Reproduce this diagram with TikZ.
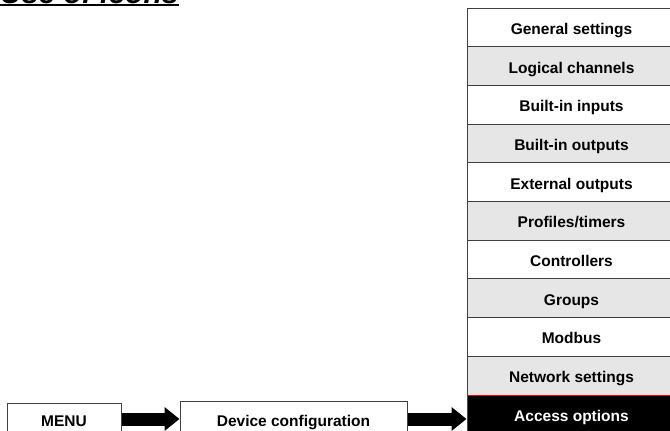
\documentclass[tikz,border=0pt]{standalone}
\usepackage{fontspec}
\setmainfont{Liberation Sans}
\usetikzlibrary{arrows.meta}
\definecolor{rowgrey}{HTML}{E6E6E6}
\definecolor{edgegrey}{HTML}{404040}
\tikzset{
  boxtext/.style={font=\fontsize{15.5}{18}\selectfont\bfseries, text height=14pt, text depth=0pt},
  rowbox/.style={draw=edgegrey, line width=1pt, minimum width=209pt, minimum height=38.7pt, inner sep=0pt, boxtext},
  whiterow/.style={rowbox, fill=white},
  greyrow/.style={rowbox, fill=rowgrey},
  menubox/.style={draw=edgegrey, line width=1pt, fill=white, inner sep=0pt, boxtext},
  blockarrow/.style={line width=13pt, -{Triangle[width=23pt,length=15pt]}}
}
\begin{document}
\begin{tikzpicture}[x=1pt,y=-1pt]
\useasboundingbox (0,0) rectangle (670,431);
\clip (0,0) rectangle (670,431);
% title (cropped at the top edge, as in the reference)
\node[anchor=base west, inner sep=0pt, font=\fontsize{30}{34}\selectfont\bfseries\itshape] (title) at (0,3.5) {Use of icons};
\draw[line width=1.4pt] (title.base west) ++(0,1.3) coordinate (ulA) -- (179,4.8) coordinate (ulB);
% right column
\node[whiterow] (r1) at (571.5,27.35) {General settings};
\node[greyrow]  (r2) at (571.5,66.05) {Logical channels};
\node[whiterow] (r3) at (571.5,104.75) {Built-in inputs};
\node[greyrow]  (r4) at (571.5,143.45) {Built-in outputs};
\node[whiterow] (r5) at (571.5,182.15) {External outputs};
\node[greyrow]  (r6) at (571.5,220.85) {Profiles/timers};
\node[whiterow] (r7) at (571.5,259.55) {Controllers};
\node[greyrow]  (r8) at (571.5,298.25) {Groups};
\node[whiterow] (r9) at (571.5,336.95) {Modbus};
\node[greyrow]  (r10) at (571.5,375.65) {Network settings};
\node[rowbox, draw=red, fill=black, text=white] (r11) at (571.5,414.35) {Access options};
% bottom chain
\node[menubox, minimum width=114pt, minimum height=32pt] (menu) at (64,419) {MENU};
\node[menubox, minimum width=227pt, minimum height=36pt] (dev) at (293.5,419) {Device configuration};
\draw[blockarrow] (menu.east) -- (dev.west);
\draw[blockarrow] (dev.east) -- (dev.east -| r11.west);
\end{tikzpicture}
\end{document}
